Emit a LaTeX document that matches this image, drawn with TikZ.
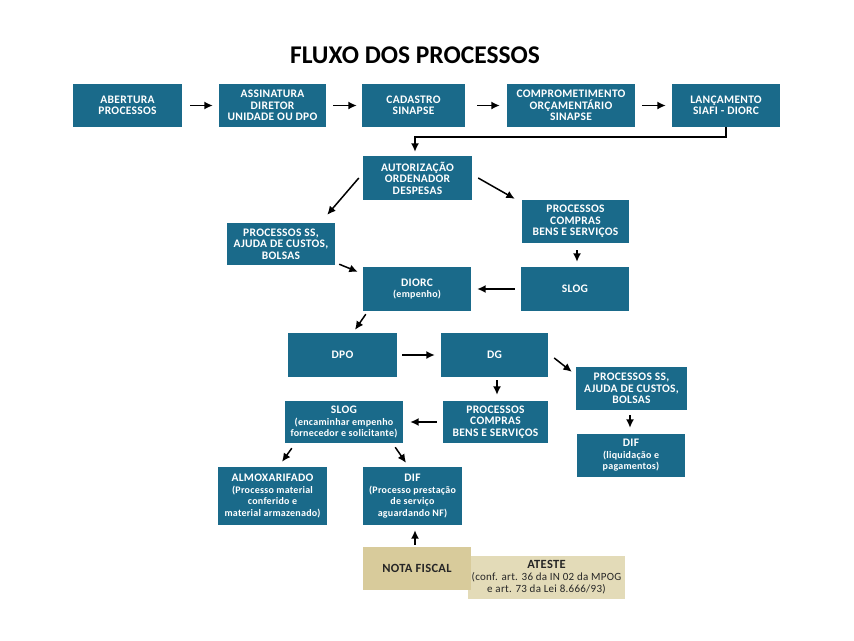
\documentclass[tikz,border=0pt]{standalone}
\usepackage{fontspec}
\setmainfont{Carlito}
\newfontfamily\boxfont[LetterSpace=2.5]{Carlito}
\usetikzlibrary{arrows.meta}
\definecolor{teal1}{HTML}{1A6A8A}
\definecolor{tan1}{HTML}{D8CB9B}
\definecolor{tan2}{HTML}{E3DBB8}
\newcommand{\sm}{\fontsize{10}{10.5}\selectfont}
\begin{document}
\begin{tikzpicture}[x=1pt,y=-1pt,
  box/.style={fill=teal1, text=white, font=\boxfont\bfseries\fontsize{11.5}{11.5}\selectfont, align=center, inner sep=1pt},
  arr/.style={line width=1.5pt, -{Latex[length=8.5pt,width=8pt]}}]
\useasboundingbox[fill=white] (0,0) rectangle (854,640);
\node[font=\bfseries\fontsize{25.5}{27}\selectfont] (title) at (415,55) {FLUXO DOS PROCESSOS};
% row 1
\node[box, minimum width=109pt, minimum height=43pt] (b1) at (127.5,105.5) {ABERTURA\\PROCESSOS};
\node[box, minimum width=107pt, minimum height=43pt] (b2) at (272.5,105.5) {ASSINATURA\\DIRETOR\\UNIDADE OU DPO};
\node[box, minimum width=103pt, minimum height=43pt] (b3) at (413.5,105.5) {CADASTRO\\SINAPSE};
\node[box, minimum width=128pt, minimum height=43pt] (b4) at (571,105.5) {COMPROMETIMENTO\\ORÇAMENTÁRIO\\SINAPSE};
\node[box, minimum width=108pt, minimum height=43pt] (b5) at (726,105.5) {LANÇAMENTO\\SIAFI - DIORC};
% middle
\node[box, minimum width=109pt, minimum height=44pt] (aut) at (417.5,178) {AUTORIZAÇÃO\\ORDENADOR\\DESPESAS};
\node[box, minimum width=107pt, minimum height=43pt] (pc1) at (575.5,221.5) {PROCESSOS\\COMPRAS\\BENS E SERVIÇOS};
\node[box, minimum width=108pt, minimum height=42pt] (ps1) at (281,244) {PROCESSOS SS,\\AJUDA DE CUSTOS,\\BOLSAS};
\node[box, minimum width=108pt, minimum height=44pt] (diorc) at (417,289) {DIORC\\{\sm(empenho)}};
\node[box, minimum width=108pt, minimum height=44pt] (slog1) at (575,289) {SLOG};
\node[box, minimum width=109pt, minimum height=44pt] (dpo) at (342.5,355) {DPO};
\node[box, minimum width=107pt, minimum height=44pt] (dg) at (494.5,355) {DG};
\node[box, minimum width=111pt, minimum height=43pt] (ps2) at (631.5,388.5) {PROCESSOS SS,\\AJUDA DE CUSTOS,\\BOLSAS};
\node[box, minimum width=105pt, minimum height=42pt] (pc2) at (495.5,422) {PROCESSOS\\COMPRAS\\BENS E SERVIÇOS};
\node[box, minimum width=118pt, minimum height=42pt] (slog2) at (344,422) {SLOG\\{\sm(encaminhar empenho}\\{\sm fornecedor e solicitante)}};
\node[box, minimum width=108pt, minimum height=43pt] (dif1) at (631,455.5) {DIF\\{\sm(liquidação e}\\{\sm pagamentos)}};
\node[box, minimum width=109pt, minimum height=58pt] (almox) at (272.5,496) {ALMOXARIFADO\\{\sm(Processo material}\\{\sm conferido e}\\{\sm material armazenado)}};
\node[box, minimum width=99pt, minimum height=58pt] (dif2) at (412.5,496) {DIF\\{\sm(Processo prestação}\\{\sm de serviço}\\{\sm aguardando NF)}};
% bottom
\node[fill=tan2, text=black!85, minimum width=157pt, minimum height=43pt, align=center, inner sep=1pt, font=\boxfont\fontsize{11}{12}\selectfont] (ateste) at (546.5,577.5) {{\bfseries\fontsize{12.5}{13}\selectfont ATESTE}\\(conf. art. 36 da IN 02 da MPOG\\e art. 73 da Lei 8.666/93)};
\node[fill=tan1, text=black!85, minimum width=108pt, minimum height=43pt, inner sep=1pt, font=\boxfont\bfseries\fontsize{12.5}{13}\selectfont] (nota) at (417,568.5) {NOTA FISCAL};
% arrows row 1
\draw[arr, shorten <=8pt, shorten >=6pt] (b1.east) -- (b2.west);
\draw[arr, shorten <=7pt, shorten >=5pt] (b2.east) -- (b3.west);
\draw[arr, shorten <=12pt, shorten >=7pt] (b3.east) -- (b4.west);
\draw[arr, shorten <=7pt, shorten >=6pt] (b4.east) -- (b5.west);
\draw[arr] (b5.south) -- ++(0,10) -| ([xshift=-2.5pt,yshift=4pt]aut.north);
% middle arrows
\draw[arr] ([xshift=-4pt]aut.west) -- ([shift={(-8pt,8pt)}]ps1.north east);
\draw[arr] ([xshift=6pt]aut.east) -- ([shift={(-7pt,1pt)}]pc1.north west);
\draw[arr, shorten <=7pt, shorten >=5pt] ([xshift=1.5pt]pc1.south) -- ([xshift=2pt]slog1.north);
\draw[arr] ([shift={(4pt,1pt)}]ps1.south east) -- ([shift={(-5pt,-5pt)}]diorc.north west);
\draw[arr, shorten <=6pt, shorten >=6pt] (slog1.west) -- (diorc.east);
\draw[arr] ([shift={(3pt,-3pt)}]diorc.south west) -- ([shift={(12.5pt,3pt)}]dpo.north);
\draw[arr, shorten <=5pt, shorten >=6pt] (dpo.east) -- (dg.west);
\draw[arr] ([shift={(6pt,-3pt)}]dg.east) -- ([shift={(-4pt,-5pt)}]ps2.north west);
\draw[arr, shorten <=3pt, shorten >=6pt] ([xshift=2.5pt]dg.south) -- ([xshift=1.5pt]pc2.north);
\draw[arr, shorten <=6pt, shorten >=7pt] (pc2.west) -- (slog2.east);
\draw[arr, shorten <=5pt, shorten >=6pt] ([xshift=-1.5pt]ps2.south) -- ([xshift=-1pt]dif1.north);
\draw[arr] ([shift={(7pt,-5pt)}]slog2.south west) -- ([shift={(9.5pt,5pt)}]almox.north);
\draw[arr] ([shift={(-8pt,-4pt)}]slog2.south east) -- ([shift={(-6.5pt,4pt)}]dif2.north);
\draw[arr, shorten <=2pt, shorten >=5pt] ([xshift=-2pt]nota.north) -- ([xshift=2.5pt]dif2.south);
\end{tikzpicture}
\end{document}
